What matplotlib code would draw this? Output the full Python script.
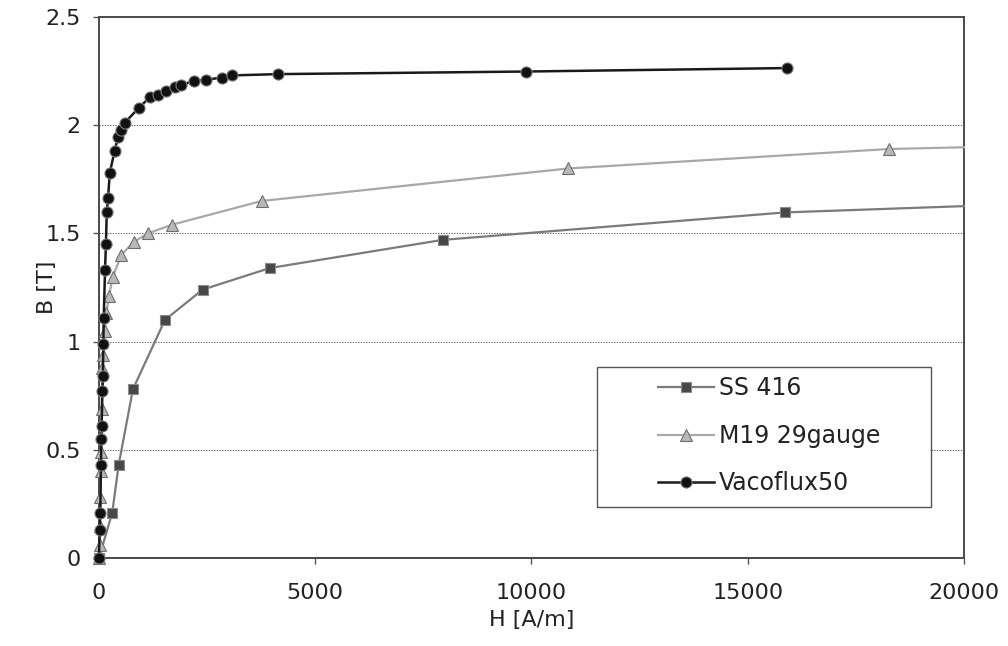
import matplotlib.pyplot as plt
from matplotlib.patches import Rectangle

# B-H magnetization curves
ss416_h = [0, 307, 455, 785, 1525, 2395, 3950, 7945, 15870, 20000]
ss416_b = [0, 0.21, 0.43, 0.78, 1.10, 1.24, 1.34, 1.47, 1.597, 1.626]

m19_h = [0, 15, 22, 30, 40, 50, 60, 80, 95, 130, 170, 230, 320, 515, 800,
         1130, 1686, 3765, 10850, 18270, 20000]
m19_b = [0, 0.06, 0.15, 0.28, 0.40, 0.49, 0.69, 0.88, 0.94, 1.05, 1.13, 1.21,
         1.30, 1.40, 1.46, 1.50, 1.54, 1.65, 1.80, 1.89, 1.898]

vaco_h = [0, 15, 30, 45, 55, 60, 80, 90, 100, 110, 140, 160, 180, 210, 250,
          360, 440, 515, 590, 920, 1170, 1360, 1550, 1750, 1900, 2190, 2470,
          2840, 3070, 4134, 9880, 15920]
vaco_b = [0, 0.13, 0.21, 0.43, 0.55, 0.61, 0.77, 0.84, 0.99, 1.11, 1.33, 1.45,
          1.60, 1.665, 1.78, 1.88, 1.945, 1.98, 2.01, 2.08, 2.128, 2.14, 2.156,
          2.175, 2.185, 2.205, 2.21, 2.22, 2.23, 2.236, 2.248, 2.264]

plt.rcParams["font.family"] = ["DejaVu Sans"]

fig = plt.figure(figsize=(10.08, 6.46), dpi=100)
ax = fig.add_axes([0.0982, 0.1362, 0.8581, 0.8375])

# last point of the first two series only carries the line to the frame
ax.plot(ss416_h, ss416_b, color="#7a7a7a", lw=1.6, marker="s", ms=7.5,
        mfc="#474747", mec="#8a8a8a", mew=0.8, markevery=list(range(len(ss416_h) - 1)),
        clip_on=False, label="SS 416", zorder=3)
ax.plot(m19_h, m19_b, color="#a8a8a8", lw=1.6, marker="^", ms=8.5,
        mfc="#b8b8b8", mec="#6e6e6e", mew=0.8, markevery=list(range(len(m19_h) - 1)),
        clip_on=False, label="M19 29gauge", zorder=3)
ax.plot(vaco_h, vaco_b, color="#1a1a1a", lw=1.8, marker="o", ms=8,
        mfc="#111111", mec="#7a7a7a", mew=0.8, clip_on=False,
        label="Vacoflux50", zorder=4)

ax.set_xlim(0, 20000)
ax.set_ylim(0, 2.5)
ax.set_xticks([0, 5000, 10000, 15000, 20000])
ax.set_yticks([0, 0.5, 1, 1.5, 2, 2.5])
ax.set_yticklabels(["0", "0.5", "1", "1.5", "2", "2.5"])

for y in [0.5, 1, 1.5, 2]:
    ax.axhline(y, color="#666666", lw=0.8, ls=(0, (1.2, 1.2)), zorder=1)

for side in ["left", "right", "top", "bottom"]:
    ax.spines[side].set_color("#4a4a4a")
    ax.spines[side].set_linewidth(1.4)

ax.tick_params(axis="both", labelsize=16, labelcolor="#222222", color="#555555",
               direction="out", length=4, width=1)
ax.tick_params(axis="x", pad=14)
ax.tick_params(axis="y", pad=9)

ax.set_xlabel("H [A/m]", fontsize=16, color="#222222")
ax.set_ylabel("B [T]", fontsize=16, color="#222222")
ax.xaxis.set_label_coords(0.5, -0.096)
ax.yaxis.set_label_coords(-0.048, 0.5)

# legend box drawn separately so the handles can sit well inside it
ax.add_patch(Rectangle((0.5757, 0.0943), 0.3863, 0.2587, transform=ax.transAxes,
                       facecolor="white", edgecolor="#555555", lw=1.0, zorder=5))
leg = ax.legend(loc="upper left", bbox_to_anchor=(0.646, 0.336), frameon=False,
                fontsize=17, borderpad=0, borderaxespad=0, handlelength=2.4,
                handletextpad=0.2, labelspacing=1.0, labelcolor="#222222")
leg.set_zorder(6)

fig.savefig("out.png", dpi=100)
